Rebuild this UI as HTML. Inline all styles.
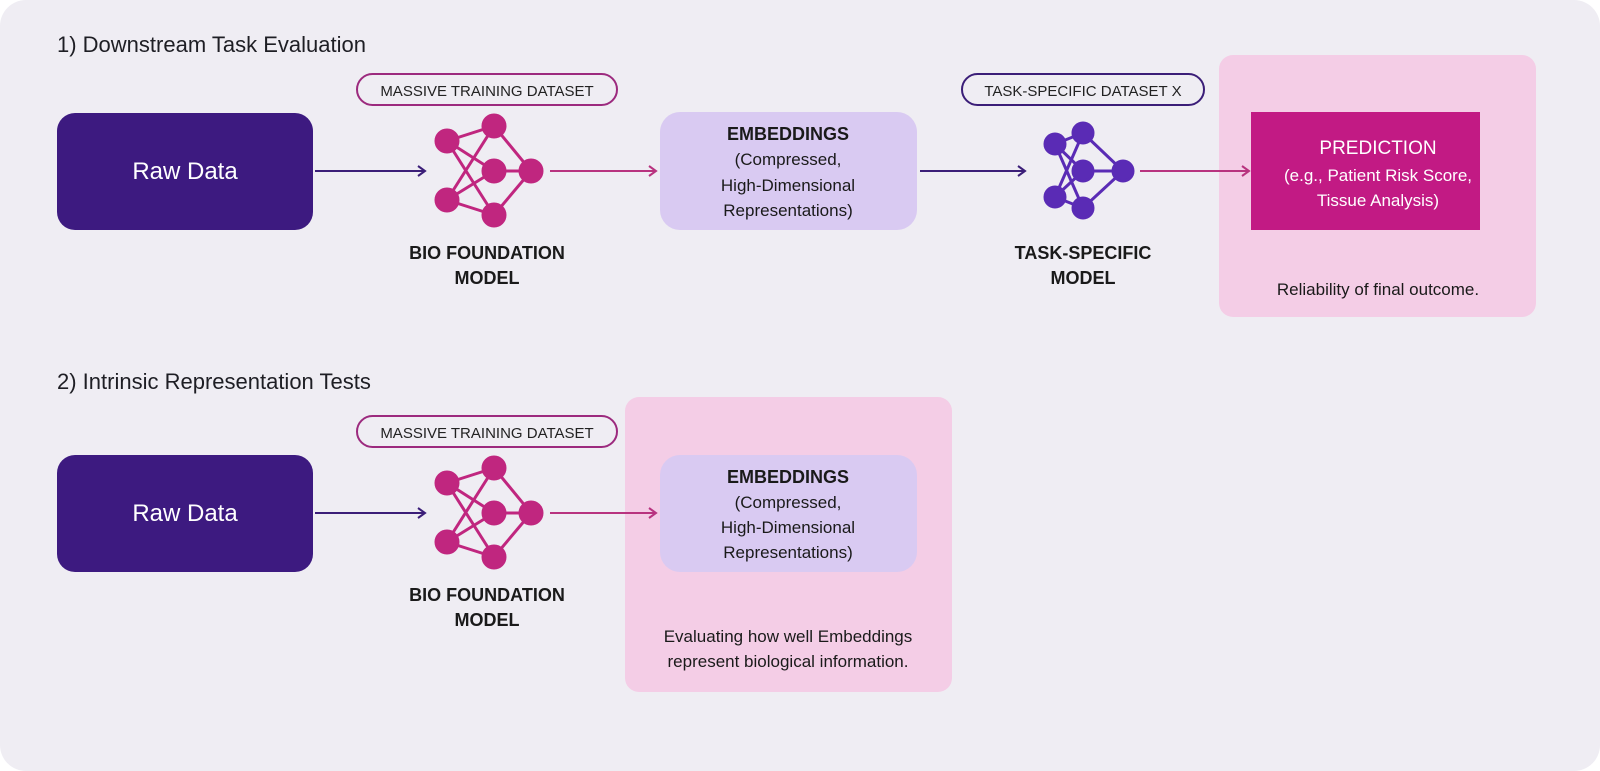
<!DOCTYPE html>
<html><head><meta charset="utf-8"><style>
html,body{margin:0;padding:0;background:#fff;}
svg{display:block;font-family:"Liberation Sans",sans-serif;}
</style></head><body>
<svg width="1600" height="771" viewBox="0 0 1600 771" xmlns="http://www.w3.org/2000/svg">
<defs>
<marker id="ad" markerWidth="12" markerHeight="12" refX="10" refY="6" orient="auto" markerUnits="userSpaceOnUse"><path d="M3,1 L10,6 L3,11" fill="none" stroke="#3b1e78" stroke-width="2"/></marker>
<marker id="am" markerWidth="12" markerHeight="12" refX="10" refY="6" orient="auto" markerUnits="userSpaceOnUse"><path d="M3,1 L10,6 L3,11" fill="none" stroke="#b8337f" stroke-width="2"/></marker>
<g id="net1" stroke="#c0267f" stroke-width="3" fill="#c0267f">
<line x1="447" y1="141" x2="494" y2="126"/><line x1="447" y1="141" x2="494" y2="171"/><line x1="447" y1="141" x2="494" y2="215"/>
<line x1="447" y1="200" x2="494" y2="126"/><line x1="447" y1="200" x2="494" y2="171"/><line x1="447" y1="200" x2="494" y2="215"/>
<line x1="494" y1="126" x2="531" y2="171"/><line x1="494" y1="171" x2="531" y2="171"/><line x1="494" y1="215" x2="531" y2="171"/>
<circle cx="447" cy="141" r="11"/><circle cx="447" cy="200" r="11"/><circle cx="494" cy="126" r="11"/><circle cx="494" cy="171" r="11"/><circle cx="494" cy="215" r="11"/><circle cx="531" cy="171" r="11"/>
</g>
</defs>
<rect x="0" y="0" width="1600" height="771" rx="26" fill="#efedf3"/>

<!-- Section 1 -->
<text x="57" y="52" font-size="22" fill="#1e1e24">1) Downstream Task Evaluation</text>
<rect x="357" y="74" width="260" height="31" rx="15.5" fill="none" stroke="#9c2a7e" stroke-width="2"/>
<text x="487" y="96" font-size="15" text-anchor="middle" fill="#222">MASSIVE TRAINING DATASET</text>
<rect x="57" y="113" width="256" height="117" rx="18" fill="#3d1a80"/>
<text x="185" y="179" font-size="24" text-anchor="middle" fill="#fff">Raw Data</text>
<line x1="315" y1="171" x2="425" y2="171" stroke="#3b1e78" stroke-width="2" marker-end="url(#ad)"/>
<use href="#net1"/>
<text x="487" y="259" font-size="18" font-weight="bold" text-anchor="middle" fill="#1a1a1a">BIO FOUNDATION</text>
<text x="487" y="284" font-size="18" font-weight="bold" text-anchor="middle" fill="#1a1a1a">MODEL</text>
<line x1="550" y1="171" x2="656" y2="171" stroke="#b8337f" stroke-width="2" marker-end="url(#am)"/>
<rect x="660" y="112" width="257" height="118" rx="20" fill="#d9caf2"/>
<text x="788" y="140" font-size="18" font-weight="bold" text-anchor="middle" fill="#1a1a1a">EMBEDDINGS</text>
<text x="788" y="165" font-size="17" text-anchor="middle" fill="#1a1a1a">(Compressed,</text>
<text x="788" y="191" font-size="17" text-anchor="middle" fill="#1a1a1a">High-Dimensional</text>
<text x="788" y="216" font-size="17" text-anchor="middle" fill="#1a1a1a">Representations)</text>
<line x1="920" y1="171" x2="1025" y2="171" stroke="#3b1e78" stroke-width="2" marker-end="url(#ad)"/>
<rect x="962" y="74" width="242" height="31" rx="15.5" fill="none" stroke="#3b1e78" stroke-width="2"/>
<text x="1083" y="96" font-size="15" text-anchor="middle" fill="#222">TASK-SPECIFIC DATASET X</text>
<g stroke="#5a2bb5" stroke-width="3" fill="#5a2bb5">
<line x1="1055" y1="144" x2="1083" y2="133"/><line x1="1055" y1="144" x2="1083" y2="171"/><line x1="1055" y1="144" x2="1083" y2="208"/>
<line x1="1055" y1="197" x2="1083" y2="133"/><line x1="1055" y1="197" x2="1083" y2="171"/><line x1="1055" y1="197" x2="1083" y2="208"/>
<line x1="1083" y1="133" x2="1123" y2="171"/><line x1="1083" y1="171" x2="1123" y2="171"/><line x1="1083" y1="208" x2="1123" y2="171"/>
<circle cx="1055" cy="144" r="10"/><circle cx="1055" cy="197" r="10"/><circle cx="1083" cy="133" r="10"/><circle cx="1083" cy="171" r="10"/><circle cx="1083" cy="208" r="10"/><circle cx="1123" cy="171" r="10"/>
</g>
<text x="1083" y="259" font-size="18" font-weight="bold" text-anchor="middle" fill="#1a1a1a">TASK-SPECIFIC</text>
<text x="1083" y="284" font-size="18" font-weight="bold" text-anchor="middle" fill="#1a1a1a">MODEL</text>
<rect x="1219" y="55" width="317" height="262" rx="14" fill="#f4cde6"/>
<line x1="1140" y1="171" x2="1249" y2="171" stroke="#b8337f" stroke-width="2" marker-end="url(#am)"/>
<rect x="1251" y="112" width="229" height="118" fill="#c21a84"/>
<text x="1378" y="154" font-size="19" text-anchor="middle" fill="#fff">PREDICTION</text>
<text x="1378" y="181" font-size="17" text-anchor="middle" fill="#fff">(e.g., Patient Risk Score,</text>
<text x="1378" y="206" font-size="17" text-anchor="middle" fill="#fff">Tissue Analysis)</text>
<text x="1378" y="295" font-size="17" text-anchor="middle" fill="#1a1a1a">Reliability of final outcome.</text>

<!-- Section 2 -->
<text x="57" y="389" font-size="22" fill="#1e1e24">2) Intrinsic Representation Tests</text>
<rect x="625" y="397" width="327" height="295" rx="14" fill="#f4cde6"/>
<rect x="357" y="416" width="260" height="31" rx="15.5" fill="none" stroke="#9c2a7e" stroke-width="2"/>
<text x="487" y="438" font-size="15" text-anchor="middle" fill="#222">MASSIVE TRAINING DATASET</text>
<rect x="57" y="455" width="256" height="117" rx="18" fill="#3d1a80"/>
<text x="185" y="521" font-size="24" text-anchor="middle" fill="#fff">Raw Data</text>
<line x1="315" y1="513" x2="425" y2="513" stroke="#3b1e78" stroke-width="2" marker-end="url(#ad)"/>
<use href="#net1" transform="translate(0,342)"/>
<text x="487" y="601" font-size="18" font-weight="bold" text-anchor="middle" fill="#1a1a1a">BIO FOUNDATION</text>
<text x="487" y="626" font-size="18" font-weight="bold" text-anchor="middle" fill="#1a1a1a">MODEL</text>
<line x1="550" y1="513" x2="656" y2="513" stroke="#b8337f" stroke-width="2" marker-end="url(#am)"/>
<rect x="660" y="455" width="257" height="117" rx="20" fill="#d9caf2"/>
<text x="788" y="483" font-size="18" font-weight="bold" text-anchor="middle" fill="#1a1a1a">EMBEDDINGS</text>
<text x="788" y="508" font-size="17" text-anchor="middle" fill="#1a1a1a">(Compressed,</text>
<text x="788" y="533" font-size="17" text-anchor="middle" fill="#1a1a1a">High-Dimensional</text>
<text x="788" y="558" font-size="17" text-anchor="middle" fill="#1a1a1a">Representations)</text>
<text x="788" y="642" font-size="17" text-anchor="middle" fill="#1a1a1a">Evaluating how well Embeddings</text>
<text x="788" y="667" font-size="17" text-anchor="middle" fill="#1a1a1a">represent biological information.</text>
</svg>
</body></html>
